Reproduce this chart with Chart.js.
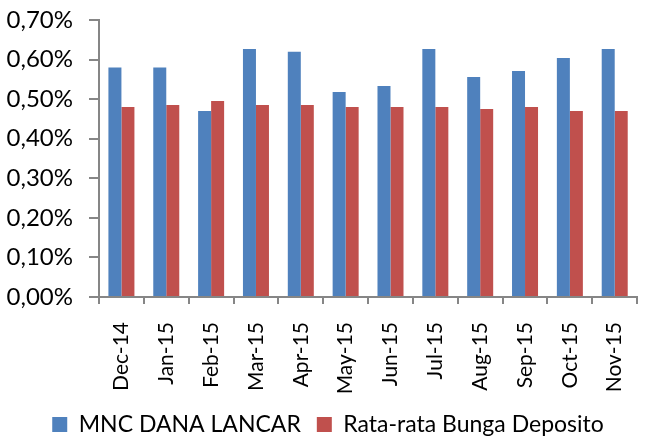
<!DOCTYPE html>
<html>
<head>
<meta charset="utf-8">
<script src="https://cdn.jsdelivr.net/npm/chart.js@4/dist/chart.umd.min.js"></script>
<style>
  html, body { margin: 0; padding: 0; background: #fff; }
  #wrap { width: 658px; height: 439px; }
</style>
</head>
<body>
<div id="wrap"><canvas id="chart" width="658" height="439"></canvas></div>
<script>
  // months on the x axis
  var months = ['Dec-14', 'Jan-15', 'Feb-15', 'Mar-15', 'Apr-15', 'May-15',
                'Jun-15', 'Jul-15', 'Aug-15', 'Sep-15', 'Oct-15', 'Nov-15'];

  // monthly return, in percent
  var mncDanaLancar = [0.58, 0.58, 0.47, 0.627, 0.62, 0.518, 0.533, 0.627, 0.556, 0.571, 0.604, 0.627];
  var bungaDeposito = [0.48, 0.485, 0.495, 0.485, 0.485, 0.48, 0.48, 0.48, 0.475, 0.48, 0.47, 0.47];

  var yTicks = [0, 0.1, 0.2, 0.3, 0.4, 0.5, 0.6, 0.7];

  var axisGrey = '#868686';
  var fontFamily = 'Lato, "Open Sans", sans-serif';

  function pct(v) {
    return v.toFixed(2).replace('.', ',') + '%';
  }

  new Chart(document.getElementById('chart'), {
    type: 'bar',
    data: {
      labels: months,
      datasets: [
        {
          label: 'MNC DANA LANCAR',
          data: mncDanaLancar,
          backgroundColor: '#4F81BD',
          categoryPercentage: 0.58,
          barPercentage: 1
        },
        {
          label: 'Rata-rata Bunga Deposito',
          data: bungaDeposito,
          backgroundColor: '#C0504D',
          categoryPercentage: 0.58,
          barPercentage: 1
        }
      ]
    },
    options: {
      responsive: false,
      animation: false,
      // negative bottom pad lets the legend sit lower than chart.js would put it
      layout: { padding: { top: 0, right: 2, left: 0, bottom: -7 } },
      plugins: {
        legend: {
          position: 'bottom',
          labels: {
            color: '#000',
            boxWidth: 15,
            boxHeight: 15,
            padding: 16,
            font: { family: fontFamily, size: 23 }
          }
        },
        tooltip: { enabled: false }
      },
      scales: {
        x: {
          // labels get clipped to the axis box, so keep it tall enough
          afterFit: function(scale) { scale.height = 100; },
          grid: {
            drawOnChartArea: false,
            drawTicks: true,
            tickLength: 7,
            color: axisGrey,
            lineWidth: 2,
            offset: true
          },
          border: { color: axisGrey, width: 2 },
          ticks: {
            color: '#000',
            minRotation: 90,
            maxRotation: 90,
            padding: 18,
            font: { family: fontFamily, size: 21 }
          }
        },
        y: {
          min: 0,
          max: 0.7,
          afterFit: function(scale) {
            scale.width = 99;
            // tick padding gets added to the top reserve, override it
            scale.paddingTop = 20;
            scale.paddingBottom = 0;
          },
          afterBuildTicks: function(scale) {
            scale.ticks = yTicks.map(function(v) { return { value: v }; });
          },
          grid: {
            drawOnChartArea: false,
            drawTicks: true,
            tickLength: 10,
            color: axisGrey,
            lineWidth: 2
          },
          border: { color: axisGrey, width: 2 },
          ticks: {
            color: '#000',
            padding: 16,
            font: { family: fontFamily, size: 24 },
            callback: function(v) { return pct(v); }
          }
        }
      }
    }
  });
</script>
</body>
</html>
